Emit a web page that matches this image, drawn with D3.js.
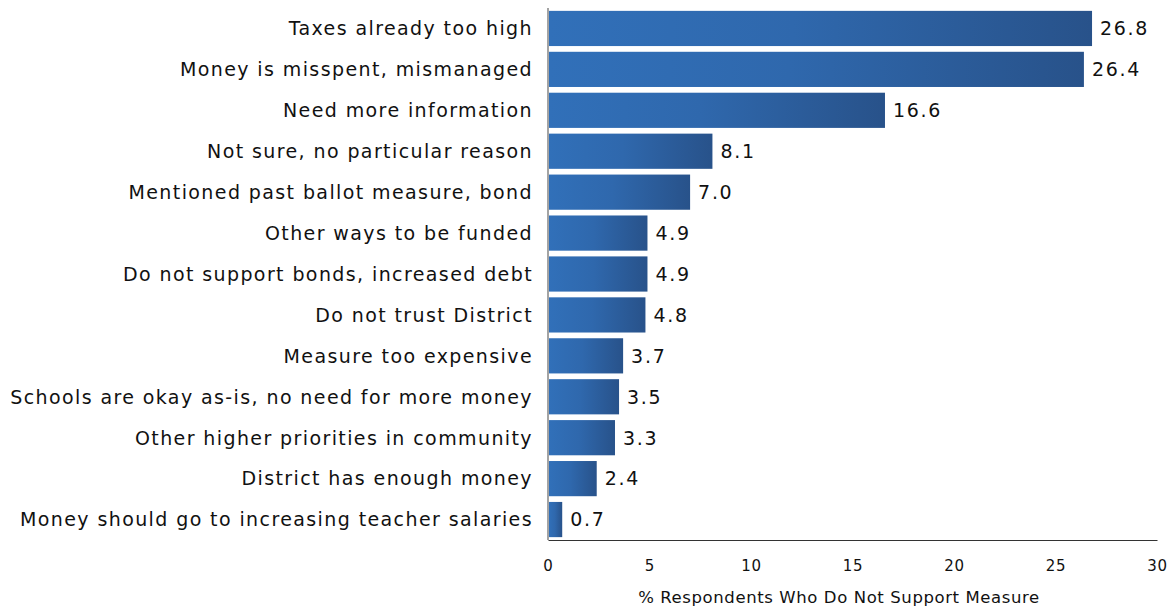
<!DOCTYPE html>
<html>
<head>
<meta charset="utf-8">
<script src="https://cdn.jsdelivr.net/npm/d3@7"></script>
<style>
  html, body { margin: 0; padding: 0; background: #fff; }
  svg { display: block; }
  text { font-family: "DejaVu Sans", sans-serif; fill: #111; }
</style>
</head>
<body>
<svg id="chart" width="1172" height="607"></svg>
<script>
// Reasons for not supporting the measure (% of respondents)
const categories = [
  "Taxes already too high",
  "Money is misspent, mismanaged",
  "Need more information",
  "Not sure, no particular reason",
  "Mentioned past ballot measure, bond",
  "Other ways to be funded",
  "Do not support bonds, increased debt",
  "Do not trust District",
  "Measure too expensive",
  "Schools are okay as-is, no need for more money",
  "Other higher priorities in community",
  "District has enough money",
  "Money should go to increasing teacher salaries"
];
const values = [26.8, 26.4, 16.6, 8.1, 7.0, 4.9, 4.9, 4.8, 3.7, 3.5, 3.3, 2.4, 0.7];
const xTicks = [0, 5, 10, 15, 20, 25, 30];
const xTitle = "% Respondents Who Do Not Support Measure";

const margin = { top: 8, right: 15, bottom: 67, left: 548 };
const W = 1172, H = 607;
const svg = d3.select("#chart");

const x = d3.scaleLinear().domain([0, 30]).range([margin.left, W - margin.right]);
const y = d3.scaleBand().domain(categories).range([margin.top, H - margin.bottom]).paddingInner(0.14).paddingOuter(0.07);

// horizontal gradient applied per bar
const defs = svg.append("defs");
const grad = defs.append("linearGradient").attr("id", "barGrad")
  .attr("x1", "0%").attr("x2", "100%").attr("y1", "0%").attr("y2", "0%");
grad.append("stop").attr("offset", "0%").attr("stop-color", "#3170b9");
grad.append("stop").attr("offset", "45%").attr("stop-color", "#2f68ad");
grad.append("stop").attr("offset", "100%").attr("stop-color", "#28528a");

svg.append("g").selectAll("rect").data(values).join("rect")
  .attr("x", x(0) + 1)
  .attr("y", (d, i) => y(categories[i]))
  .attr("width", d => x(d) - x(0) - 1)
  .attr("height", y.bandwidth())
  .attr("fill", "url(#barGrad)");

// value labels
svg.append("g").selectAll("text").data(values).join("text")
  .attr("x", d => x(d) + 8)
  .attr("y", (d, i) => y(categories[i]) + y.bandwidth() / 2)
  .attr("dy", "0.36em")
  .attr("font-size", 19)
  .attr("letter-spacing", 1.7)
  .text(d => d.toFixed(1));

// category labels
svg.append("g").selectAll("text").data(categories).join("text")
  .attr("x", margin.left - 15)
  .attr("y", d => y(d) + y.bandwidth() / 2)
  .attr("dy", "0.36em")
  .attr("text-anchor", "end")
  .attr("font-size", 19)
  .attr("letter-spacing", 1.4)
  .text(d => d);

// axes lines
svg.append("line")
  .attr("x1", x(0)).attr("x2", x(0))
  .attr("y1", margin.top).attr("y2", H - margin.bottom)
  .attr("stroke", "#666").attr("stroke-width", 1.2);

const xAxis = d3.axisBottom(x).tickValues(xTicks).tickSize(0).tickPadding(20);
const gx = svg.append("g").attr("transform", `translate(0,${H - margin.bottom})`).call(xAxis);
gx.select(".domain").attr("stroke", "#333").attr("stroke-width", 1.2);
gx.selectAll(".tick text").attr("font-size", 15).attr("letter-spacing", 0.8)
  .attr("font-family", "DejaVu Sans, sans-serif").attr("fill", "#111");

svg.append("text")
  .attr("x", 839)
  .attr("y", H - 4)
  .attr("text-anchor", "middle")
  .attr("font-size", 16.5)
  .attr("letter-spacing", 0.6)
  .text(xTitle);
</script>
</body>
</html>
